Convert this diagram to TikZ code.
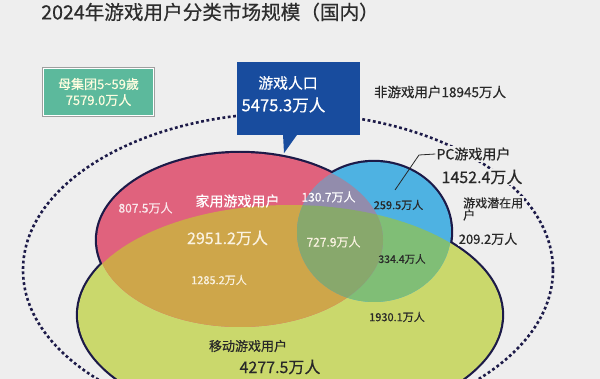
\documentclass[tikz,border=0pt]{standalone}
\usepackage{fontspec}
\setmainfont{Noto Sans CJK SC}[FakeBold=0.5]
\usepackage{tikz}
\usetikzlibrary{positioning}
\definecolor{bggray}{RGB}{238,238,238}
\definecolor{titlegray}{RGB}{45,45,45}
\definecolor{agegreen}{RGB}{92,185,156}
\definecolor{popblue}{RGB}{24,76,158}
\definecolor{outlinenavy}{RGB}{28,26,72}
\definecolor{consolepink}{RGB}{224,98,125}
\definecolor{mobilelime}{RGB}{202,216,108}
\definecolor{pcblue}{RGB}{78,178,226}
\definecolor{consolemobile}{RGB}{206,166,74}
\definecolor{pcmobile}{RGB}{128,190,118}
\definecolor{consolepc}{RGB}{146,140,172}
\definecolor{allthree}{RGB}{136,168,108}
\definecolor{labeldark}{RGB}{40,40,40}
\definecolor{labellite}{RGB}{250,242,225}

\newcommand{\consolepath}{(240,240) ellipse [x radius=143, y radius=87]}
\newcommand{\mobilepath}{(290,315) ellipse [x radius=212, y radius=110]}
\newcommand{\pcpath}{(374,232) ellipse [x radius=77, y radius=70]}
\newcommand{\fs}[2]{\fontsize{#1}{#2}\selectfont}

\begin{document}
\begin{tikzpicture}[
    x=1pt, y=-1pt,
    every node/.style={inner sep=1pt},
    outline/.style={draw=outlinenavy, line width=4.4pt},
    dotring/.style={draw=outlinenavy, line width=2.6pt, dash pattern=on 2.8pt off 2.6pt},
    agebox/.style={rectangle, fill=agegreen, minimum width=110pt, minimum height=47pt, align=center, text=white!88!yellow,
        preaction={draw=gray!75, line width=3.6pt}, draw=white, line width=1.6pt},
    popbox/.style={rectangle, fill=popblue, minimum width=123pt, minimum height=73pt, inner sep=0pt},
    lite/.style={text=labellite},
    dark/.style={text=labeldark},
    bgtag/.style={fill=bggray, text=labeldark},
    leader/.style={draw=labeldark, line width=0.8pt}
]
\useasboundingbox (0,0) rectangle (600,379);
\clip (0,0) rectangle (600,379);
\fill[bggray] (0,0) rectangle (600,379);

\node[text=titlegray, font=\fs{19.6}{22}] (title) at (210,12) {2024年游戏用户分类市场规模（国内）};

\node[agebox, font=\fs{13}{16}] (parent) at (98.5,92) {母集团5{\char"7E}59歲\\7579.0万人};

\draw[dotring] (288,270) ellipse [x radius=265, y radius=157];

\draw[outline] \mobilepath;
\draw[outline] \consolepath;
\draw[outline] \pcpath;
\fill[mobilelime] \mobilepath;
\fill[consolepink] \consolepath;
\fill[pcblue] \pcpath;
\begin{scope}
  \clip \mobilepath;
  \fill[consolemobile] \consolepath;
  \fill[pcmobile] \pcpath;
\end{scope}
\begin{scope}
  \clip \consolepath;
  \fill[consolepc] \pcpath;
  \clip \mobilepath;
  \fill[allthree] \pcpath;
\end{scope}

\node[popbox] (gamepop) at (298.5,98.5) {};
\fill[popblue] ([xshift=-15.5pt, yshift=1pt]gamepop.south) -- ([xshift=-1pt, yshift=1pt]gamepop.south)
    -- ([xshift=-14.5pt, yshift=-18pt]gamepop.south) -- cycle;
\node[text=white, font=\fs{14.8}{17}] (gamepoptitle) at (288,83) {游戏人口};
\node[text=white, font=\fs{16.6}{19}] (gamepopvalue) at (283.5,105) {5475.3万人};

\node[dark, font=\fs{13.5}{16}] (nongamer) at (440,92) {非游戏用户18945万人};

\node[text=white!85!consolepink, font=\fs{12}{14}] (consoleonly) at (145.5,208) {807.5万人};
\node[text=white, font=\fs{14}{16}] (consolename) at (237.5,201) {家用游戏用户};
\node[lite, font=\fs{16}{18}] (consoletotal) at (227.5,238) {2951.2万人};
\node[text=white, font=\fs{12}{14}] (consolepcval) at (328.5,197) {130.7万人};
\node[dark, font=\fs{11}{13}] (pconly) at (398.5,205) {259.5万人};
\node[lite, font=\fs{12}{14}] (allthreeval) at (333.5,242) {727.9万人};
\node[dark, font=\fs{10.5}{12}] (pcmobileval) at (402,259) {334.4万人};
\node[lite, font=\fs{11}{13}] (consolemobileval) at (219,280) {1285.2万人};
\node[dark, font=\fs{11}{13}] (mobileonly) at (397,317) {1930.1万人};
\node[dark, font=\fs{13}{15}] (mobilename) at (248,346) {移动游戏用户};
\node[dark, font=\fs{16}{18}] (mobiletotal) at (280,367) {4277.5万人};

\node[bgtag, font=\fs{14}{16}] (pclabel) at (473.5,154) {PC游戏用户};
\node[bgtag, font=\fs{16}{18}] (pctotal) at (482,177) {1452.4万人};
\coordinate (pctip) at (395,190);
\coordinate (pcknee) at (419,155);
\draw[leader] (pctip) -- (pcknee) -- (pclabel.west);

\node[bgtag, font=\fs{12}{12}, align=left, anchor=west] (potential) at (462,209) {游戏潜在用\\户};
\node[bgtag, font=\fs{13}{15}] (potentialval) at (488,239) {209.2万人};
\end{tikzpicture}
\end{document}
